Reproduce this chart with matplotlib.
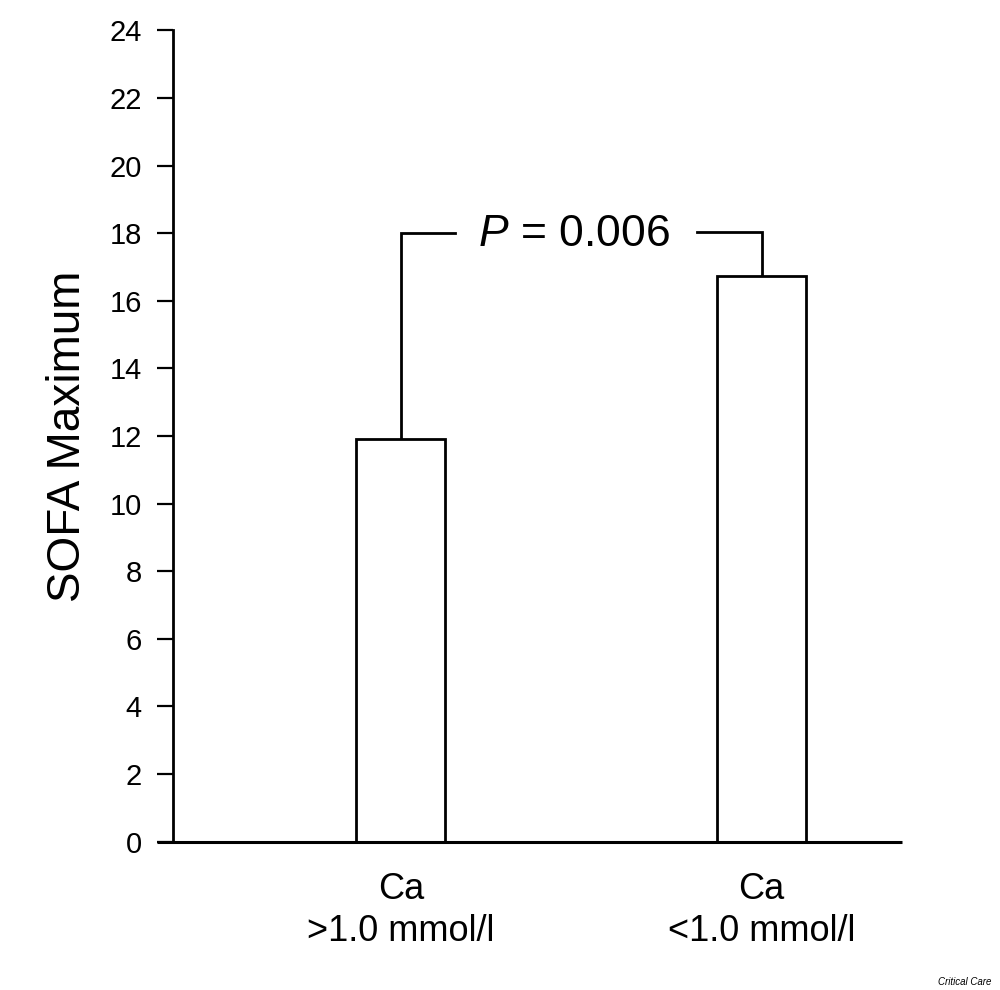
import matplotlib
matplotlib.use("Agg")
import matplotlib.pyplot as plt

# ---- data ----
categories = ["Ca\n>1.0 mmol/l", "Ca\n<1.0 mmol/l"]
sofa_max = [11.9, 16.75]
y_ticks = list(range(0, 25, 2))
p_label = "0.006"
bracket_level = [18.0, 18.05]
ylabel = "SOFA Maximum"
source = "Critical Care"

plt.rcParams['font.family'] = ['Liberation Sans', 'DejaVu Sans']
plt.rcParams['mathtext.fontset'] = 'custom'
plt.rcParams['mathtext.rm'] = 'Liberation Sans'
plt.rcParams['mathtext.it'] = 'Liberation Sans:italic'

fig = plt.figure(figsize=(10, 9.9), dpi=100)
ax = fig.add_axes([0.173, 0.1498, 0.729, 0.8194])

xpos = [2.5, 6.46]
ax.bar(xpos, sofa_max, width=0.98, color='white', edgecolor='black', linewidth=2.0, zorder=3)

ax.set_xlim(0, 8)
ax.set_ylim(0, 24)
ax.set_yticks(y_ticks)
ax.set_yticklabels([str(t) for t in y_ticks], fontsize=21)
ax.tick_params(axis='y', length=11.5, width=1.6, pad=11, direction='out')
ax.set_xticks(xpos)
ax.set_xticklabels(categories, fontsize=26, linespacing=1.25)
ax.tick_params(axis='x', length=0, pad=22)

for s in ['top', 'right', 'bottom']:
    ax.spines[s].set_visible(False)
ax.spines['left'].set_linewidth(2.0)
ax.plot([-16 / 729, 1], [0, 0], transform=ax.transAxes, color='black',
        lw=2.2, clip_on=False, solid_capstyle='butt', zorder=4)

# significance bracket
ax.plot([xpos[0], xpos[0], 3.1], [sofa_max[0], bracket_level[0], bracket_level[0]],
        color='black', lw=2.0, solid_joinstyle='miter')
ax.plot([5.75, xpos[1], xpos[1]], [bracket_level[1], bracket_level[1], sofa_max[1]],
        color='black', lw=2.0, solid_joinstyle='miter')
ax.text(4.4, 17.95, r"$\it{P}$ = " + p_label, fontsize=32, ha='center', va='center')

ax.set_ylabel(ylabel, fontsize=33)
ax.yaxis.set_label_coords(-0.114, 0.5)

fig.text(0.991, 0.003, source, fontsize=7, style='italic', ha='right', va='bottom')

fig.savefig("out.png", dpi=100)
